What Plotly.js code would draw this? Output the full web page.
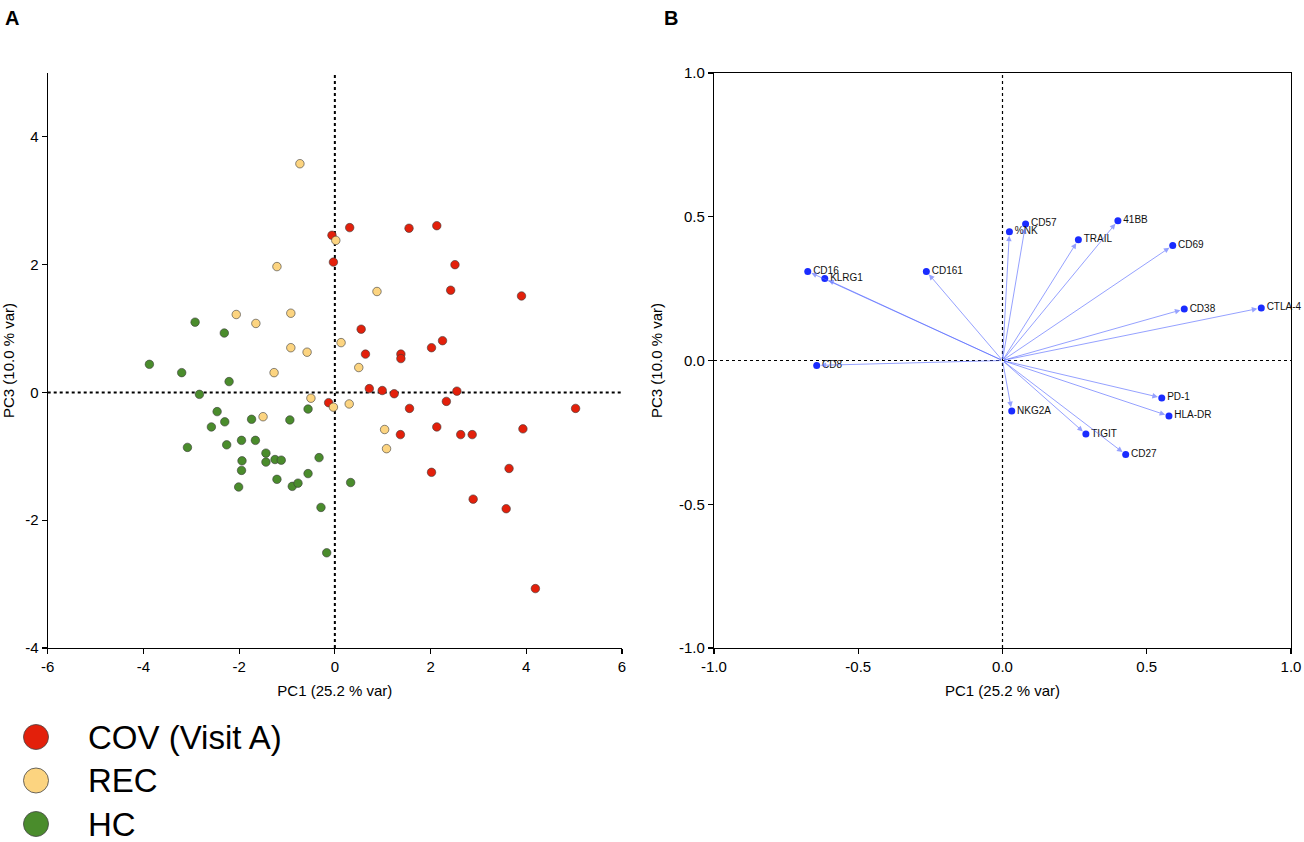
<!DOCTYPE html>
<html>
<head>
<meta charset="utf-8">
<script src="https://cdn.plot.ly/plotly-3.0.1.min.js"></script>
<style>
html,body{margin:0;padding:0;background:#fff;}
#chart{width:1304px;height:842px;}
</style>
</head>
<body>
<div id="chart"></div>
<script>
// ---- Panel A: PCA scores ----
const groupNames = ['COV (Visit A)', 'REC', 'HC'];
const groupColors = ['#e3200b', '#fcd480', '#4a8c2c'];

const covPC1 = [-0.06,-0.03,0.31,1.55,2.13,2.51,2.42,3.90,0.55,0.64,1.38,1.38,2.02,2.25,0.72,0.99,1.24,2.55,-0.13,2.33,1.56,5.03,2.13,1.37,2.63,2.87,3.93,2.02,3.64,2.89,3.58,4.19];
const covPC3 = [2.46,2.04,2.58,2.57,2.61,2.00,1.60,1.51,0.99,0.60,0.60,0.53,0.70,0.81,0.06,0.03,-0.02,0.02,-0.16,-0.14,-0.25,-0.25,-0.54,-0.66,-0.66,-0.66,-0.57,-1.25,-1.19,-1.67,-1.82,-3.07];

const recPC1 = [-0.73,-1.21,0.02,-2.06,-1.65,-0.92,-0.92,-0.58,-1.27,0.13,0.88,0.50,-0.50,-1.50,-0.03,0.30,1.04,1.08];
const recPC3 = [3.58,1.97,2.38,1.22,1.08,1.24,0.70,0.63,0.31,0.78,1.58,0.39,-0.09,-0.38,-0.23,-0.18,-0.58,-0.88];

const hcPC1 = [-2.92,-2.31,-3.875,-3.20,-2.21,-2.83,-2.46,-2.58,-2.30,-1.74,-0.94,-0.56,-3.08,-2.26,-1.95,-1.66,-1.44,-1.44,-1.25,-1.12,-1.94,-1.95,-2.01,-1.21,-0.89,-0.77,-0.56,-0.33,-0.29,-0.17,0.33];
const hcPC3 = [1.10,0.93,0.44,0.31,0.17,-0.03,-0.30,-0.54,-0.46,-0.42,-0.43,-0.26,-0.86,-0.82,-0.75,-0.75,-0.95,-1.09,-1.05,-1.06,-1.07,-1.22,-1.48,-1.36,-1.47,-1.42,-1.27,-1.02,-1.80,-2.51,-1.41];

// ---- Panel B: loadings ----
const loadNames = ['CD16','KLRG1','CD161','CD8','%NK','CD57','41BB','TRAIL','CD69','CD38','CTLA-4','PD-1','HLA-DR','NKG2A','TIGIT','CD27'];
const loadPC1 = [-0.675,-0.616,-0.264,-0.644,0.024,0.080,0.400,0.263,0.590,0.630,0.897,0.552,0.577,0.032,0.289,0.427];
const loadPC3 = [0.310,0.285,0.310,-0.017,0.448,0.475,0.486,0.420,0.400,0.179,0.183,-0.130,-0.193,-0.176,-0.256,-0.327];

// tick labels
const aXTicks = [-6,-4,-2,0,2,4,6];
const aXLabels = ['-6','-4','-2','0','2','4','6'];
const aYTicks = [-4,-2,0,2,4];
const aYLabels = ['-4','-2','0','2','4'];
const bTicks = [-1,-0.5,0,0.5,1];
const bLabels = ['-1.0','-0.5','0.0','0.5','1.0'];

const xTitle = 'PC1 (25.2 % var)';
const yTitle = 'PC3 (10.0 % var)';

const FONT = 'Liberation Sans, Arial, Helvetica, sans-serif';

const groupX = [covPC1, recPC1, hcPC1];
const groupY = [covPC3, recPC3, hcPC3];

const traces = groupNames.map((name, i) => ({
  type: 'scatter', mode: 'markers', name: name,
  x: groupX[i], y: groupY[i], xaxis: 'x', yaxis: 'y',
  marker: {size: 8.5, color: groupColors[i], line: {color: '#3a3a3a', width: 0.6}},
  showlegend: false, hoverinfo: 'x+y+name'
}));

traces.push({
  type: 'scatter', mode: 'markers+text', name: 'loadings',
  x: loadPC1, y: loadPC3, text: loadNames, xaxis: 'x2', yaxis: 'y2',
  textposition: 'middle right',
  textfont: {family: FONT, size: 10, color: '#111'},
  marker: {size: 7, color: '#1a2cff'},
  showlegend: false, cliponaxis: false
});

// arrows from origin to each loading
const arrows = loadNames.map((n, i) => ({
  x: loadPC1[i], y: loadPC3[i], xref: 'x2', yref: 'y2',
  ax: 0, ay: 0, axref: 'x2', ayref: 'y2',
  text: '', showarrow: true, arrowhead: 2, arrowsize: 1.1, arrowwidth: 1,
  arrowcolor: 'rgba(80,100,255,0.6)', standoff: 4
}));

const W = 1304, H = 842;
// custom legend
const legendTop = 737, legendStep = 43.5;
const legendShapes = groupNames.map((n, i) => ({
  type: 'circle', xref: 'paper', yref: 'paper',
  xsizemode: 'pixel', ysizemode: 'pixel',
  xanchor: 36 / W, yanchor: 1 - (legendTop + i * legendStep) / H,
  x0: -12.5, x1: 12.5, y0: -12.5, y1: 12.5,
  fillcolor: groupColors[i], line: {color: '#444', width: 0.8}
}));
const legendLabels = groupNames.map((n, i) => ({
  xref: 'paper', yref: 'paper', x: 86 / W, y: 1 - (legendTop + i * legendStep) / H,
  xanchor: 'left', yanchor: 'middle', text: n, showarrow: false,
  font: {family: FONT, size: 33, color: '#000'}
}));

const panelLetters = [
  {xref: 'paper', yref: 'paper', x: 12 / W, y: 1 - 18 / H, text: '<b>A</b>', showarrow: false,
   xanchor: 'center', yanchor: 'middle', font: {family: FONT, size: 20, color: '#000'}},
  {xref: 'paper', yref: 'paper', x: 671 / W, y: 1 - 18 / H, text: '<b>B</b>', showarrow: false,
   xanchor: 'center', yanchor: 'middle', font: {family: FONT, size: 20, color: '#000'}}
];

const zeroLines = [
  {type: 'line', xref: 'x', yref: 'y', x0: 0, x1: 0, y0: -4, y1: 5, line: {color: '#000', width: 2, dash: 'dot'}, layer: 'below'},
  {type: 'line', xref: 'x', yref: 'y', x0: -6, x1: 6, y0: 0, y1: 0, line: {color: '#000', width: 2, dash: 'dot'}, layer: 'below'},
  {type: 'line', xref: 'x2', yref: 'y2', x0: 0, x1: 0, y0: -1, y1: 1, line: {color: '#000', width: 1.2, dash: 'dot'}, layer: 'below'},
  {type: 'line', xref: 'x2', yref: 'y2', x0: -1, x1: 1, y0: 0, y1: 0, line: {color: '#000', width: 1.2, dash: 'dot'}, layer: 'below'}
];

const axisCommon = {
  showgrid: false, zeroline: false, showline: true, linecolor: '#000', linewidth: 1.2,
  ticks: 'outside', ticklen: 5, tickwidth: 1.2, tickcolor: '#000',
  tickfont: {family: FONT, size: 15, color: '#000'}
};

const yTop = 1 - 73 / H, yBot = 1 - 648 / H;

const layout = {
  width: W, height: H,
  margin: {l: 0, r: 0, t: 0, b: 0},
  paper_bgcolor: '#fff', plot_bgcolor: '#fff',
  font: {family: FONT, color: '#000'},
  showlegend: false,
  xaxis: Object.assign({}, axisCommon, {
    domain: [47.7 / W, 622 / W], range: [-6, 6], tickvals: aXTicks, ticktext: aXLabels,
    anchor: 'y', title: {text: xTitle, font: {family: FONT, size: 15}, standoff: 11}
  }),
  yaxis: Object.assign({}, axisCommon, {
    domain: [yBot, yTop], range: [-4, 5], tickvals: aYTicks, ticktext: aYLabels,
    anchor: 'x', title: {text: yTitle, font: {family: FONT, size: 15}, standoff: 12}
  }),
  xaxis2: Object.assign({}, axisCommon, {
    domain: [714 / W, 1291 / W], range: [-1, 1], tickvals: bTicks,
    ticktext: bLabels, mirror: true,
    anchor: 'y2', title: {text: xTitle, font: {family: FONT, size: 15}, standoff: 11}
  }),
  yaxis2: Object.assign({}, axisCommon, {
    domain: [yBot, yTop], range: [-1, 1], tickvals: bTicks,
    ticktext: bLabels, mirror: true,
    anchor: 'x2', title: {text: yTitle, font: {family: FONT, size: 15}, standoff: 12}
  }),
  shapes: zeroLines.concat(legendShapes),
  annotations: arrows.concat(legendLabels, panelLetters)
};

Plotly.newPlot('chart', traces, layout, {displayModeBar: false, staticPlot: true});
</script>
</body>
</html>
